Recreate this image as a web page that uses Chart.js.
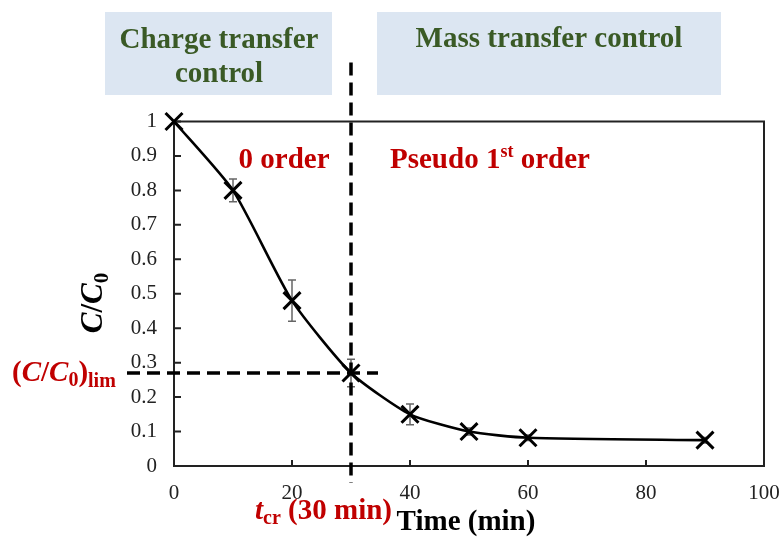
<!DOCTYPE html>
<html><head><meta charset="utf-8">
<script src="https://cdn.jsdelivr.net/npm/chart.js@4/dist/chart.umd.min.js"></script>
<style>html,body{margin:0;padding:0;background:#fff;}canvas{display:block}</style>
</head><body>
<canvas id="c" width="783" height="540"></canvas>
<script>
// ---- data ----
const timeMin = [0, 10, 20, 30, 40, 50, 60, 90];
const ratioC  = [1.0, 0.80, 0.48, 0.27, 0.15, 0.10, 0.082, 0.075];
const errC    = [0, 0.033, 0.06, 0.04, 0.03, 0.01, 0.008, 0.008];
const xTickValues = [0, 20, 40, 60, 80, 100];
const yTickValues = [0, 0.1, 0.2, 0.3, 0.4, 0.5, 0.6, 0.7, 0.8, 0.9, 1];
const tCritical = 30;
const cLimit = 0.27;
const regionLabels = [["Charge transfer", "control"], ["Mass transfer control"]];

const SERIF = '"Liberation Serif","Times New Roman",serif';
const RED = '#c00000';
const GREEN = '#3a5a26';

function richText(ctx, x, y, segs, align) {
  let total = 0;
  segs.forEach(g => { ctx.font = g.f + ' ' + g.s + 'px ' + SERIF; g.w = ctx.measureText(g.t).width; total += g.w; });
  let cx = align === 'center' ? x - total / 2 : (align === 'right' ? x - total : x);
  ctx.textAlign = 'left';
  ctx.textBaseline = 'alphabetic';
  segs.forEach(g => {
    ctx.font = g.f + ' ' + g.s + 'px ' + SERIF;
    ctx.fillText(g.t, cx, y + (g.dy || 0));
    cx += g.w;
  });
  return total;
}

const decor = {
  id: 'decor',
  beforeDraw(chart) {
    const ctx = chart.ctx;
    ctx.save();
    ctx.fillStyle = '#dce6f2';
    ctx.fillRect(105, 12, 227, 83);
    ctx.fillRect(377, 12, 344, 83);
    ctx.fillStyle = GREEN;
    ctx.font = 'bold 29px ' + SERIF;
    ctx.textAlign = 'center';
    ctx.textBaseline = 'alphabetic';
    ctx.fillText(regionLabels[0][0], 219, 48);
    ctx.fillText(regionLabels[0][1], 219, 82);
    ctx.fillText(regionLabels[1][0], 549, 47);
    ctx.restore();
  },
  beforeDatasetsDraw(chart) {
    const ctx = chart.ctx, a = chart.chartArea;
    const xs = chart.scales.x, ys = chart.scales.y;
    ctx.save();
    ctx.strokeStyle = '#222';
    ctx.lineWidth = 2;
    ctx.strokeRect(a.left, a.top, a.right - a.left, a.bottom - a.top);
    ctx.beginPath();
    yTickValues.forEach(v => { const py = ys.getPixelForValue(v); ctx.moveTo(a.left, py); ctx.lineTo(a.left + 7, py); });
    xTickValues.forEach(v => { const px = xs.getPixelForValue(v); ctx.moveTo(px, a.bottom); ctx.lineTo(px, a.bottom - 6); });
    ctx.stroke();
    ctx.strokeStyle = '#666';
    ctx.lineWidth = 1.5;
    ctx.beginPath();
    timeMin.forEach((t, i) => {
      if (!errC[i]) return;
      const px = xs.getPixelForValue(t);
      const hi = ys.getPixelForValue(ratioC[i] + errC[i]);
      const lo = ys.getPixelForValue(ratioC[i] - errC[i]);
      ctx.moveTo(px, hi); ctx.lineTo(px, lo);
      ctx.moveTo(px - 4, hi); ctx.lineTo(px + 4, hi);
      ctx.moveTo(px - 4, lo); ctx.lineTo(px + 4, lo);
    });
    ctx.stroke();
    ctx.restore();
  },
  afterDatasetsDraw(chart) {
    const ctx = chart.ctx, a = chart.chartArea;
    const xs = chart.scales.x, ys = chart.scales.y;
    const px = xs.getPixelForValue(tCritical);
    const py = ys.getPixelForValue(cLimit);
    ctx.save();
    ctx.strokeStyle = '#000';
    ctx.lineWidth = 3.5;
    ctx.setLineDash([13, 7]);
    ctx.beginPath();
    ctx.moveTo(px, a.top - 59); ctx.lineTo(px, a.bottom + 17);
    ctx.stroke();
    ctx.beginPath();
    ctx.moveTo(a.left - 47, py); ctx.lineTo(px + 27, py);
    ctx.stroke();
    ctx.setLineDash([]);
    ctx.fillStyle = RED;
    richText(ctx, 284, 168, [{t: '0 order', f: 'bold', s: 29}], 'center');
    richText(ctx, 390, 168, [
      {t: 'Pseudo 1', f: 'bold', s: 29},
      {t: 'st', f: 'bold', s: 18, dy: -11},
      {t: ' order', f: 'bold', s: 29}], 'left');
    richText(ctx, 12, 381, [
      {t: '(', f: 'bold', s: 29},
      {t: 'C', f: 'bold italic', s: 29},
      {t: '/', f: 'bold', s: 29},
      {t: 'C', f: 'bold italic', s: 29},
      {t: '0', f: 'bold', s: 20, dy: 5},
      {t: ')', f: 'bold', s: 29},
      {t: 'lim', f: 'bold', s: 20, dy: 6}], 'left');
    richText(ctx, 255, 519, [
      {t: 't', f: 'bold italic', s: 29},
      {t: 'cr', f: 'bold', s: 20, dy: 5},
      {t: ' (30 min)', f: 'bold', s: 29}], 'left');
    ctx.fillStyle = '#000';
    richText(ctx, 466, 530, [{t: 'Time (min)', f: 'bold', s: 29}], 'center');
    ctx.translate(102, 303);
    ctx.rotate(-Math.PI / 2);
    richText(ctx, 0, 0, [
      {t: 'C', f: 'bold italic', s: 31},
      {t: '/', f: 'bold', s: 31},
      {t: 'C', f: 'bold italic', s: 31},
      {t: '0', f: 'bold', s: 21, dy: 6}], 'center');
    ctx.restore();
  }
};

new Chart(document.getElementById('c'), {
  type: 'line',
  data: {
    labels: timeMin,
    datasets: [{
      data: timeMin.map((t, i) => ({x: t, y: ratioC[i]})),
      borderColor: '#000',
      borderWidth: 2.6,
      backgroundColor: '#000',
      pointStyle: 'crossRot',
      pointRadius: 12,
      pointBorderWidth: 3,
      pointBorderColor: '#000',
      tension: 0.2,
      fill: false,
      clip: false
    }]
  },
  options: {
    responsive: false,
    animation: false,
    events: [],
    layout: {padding: {top: 121.5, right: 19, left: 0, bottom: 0}},
    plugins: {legend: {display: false}, tooltip: {enabled: false}},
    scales: {
      x: {
        type: 'linear', min: 0, max: 100,
        grid: {display: false, drawTicks: false},
        border: {display: false},
        afterBuildTicks: s => { s.ticks = xTickValues.map(v => ({value: v})); },
        ticks: {padding: 15, color: '#222', font: {family: SERIF, size: 21}, maxRotation: 0},
        afterFit: s => { s.height = 74; s.paddingLeft = 0; s.paddingRight = 0; }
      },
      y: {
        type: 'linear', min: 0, max: 1,
        grid: {display: false, drawTicks: false},
        border: {display: false},
        afterBuildTicks: s => { s.ticks = yTickValues.map(v => ({value: v})); },
        ticks: {padding: 17, color: '#222', font: {family: SERIF, size: 21},
                callback: v => String(Math.round(v * 10) / 10)},
        afterFit: s => { s.width = 174; s.paddingTop = 0; s.paddingBottom = 0; }
      }
    }
  },
  plugins: [decor]
});
</script>
</body></html>
